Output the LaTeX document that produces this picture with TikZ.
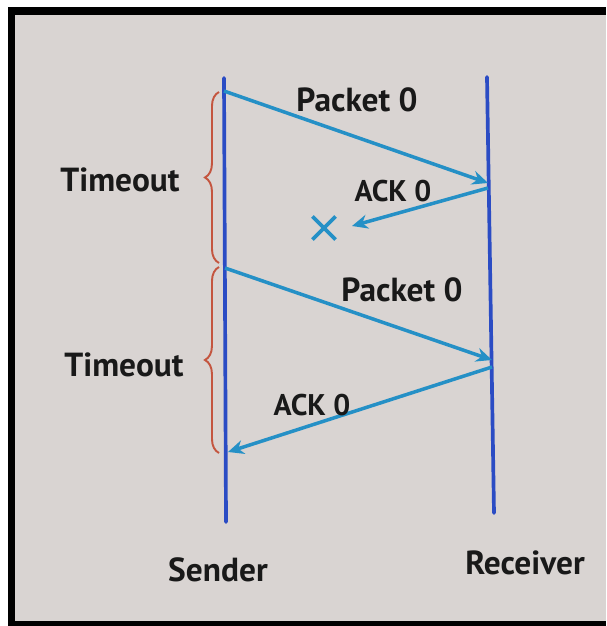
\documentclass[tikz,border=0pt]{standalone}
\usepackage{fontspec}
\setmainfont{PT Sans}
\usetikzlibrary{arrows.meta,decorations.pathreplacing,shapes.misc}
\definecolor{paper}{HTML}{D9D4D2}
\definecolor{lineblue}{HTML}{2B4CC4}
\definecolor{msgblue}{HTML}{2590C6}
\definecolor{bracered}{HTML}{C4553F}

\begin{document}
\begin{tikzpicture}[x=0.02cm, y=-0.02cm,
    timeline/.style={lineblue, line width=2.1pt, line cap=round},
    msg/.style={-{Stealth[length=9pt,width=8pt]}, msgblue, line width=2pt},
    timer/.style={decorate, decoration={brace, amplitude=8pt}, bracered, line width=1.1pt},
    txt/.style={font=\fontsize{19}{23}\selectfont\bfseries, text=black!90},
    acktxt/.style={font=\fontsize{17}{21}\selectfont\bfseries, text=black!90}
]

% Frame and paper
\fill[white] (0,0) rectangle (606,626);
\fill[black] (8,7) rectangle (606,626);
\fill[paper] (15,15) rectangle (606,621);

% Time lines
\coordinate (sendtop) at (224,78);
\coordinate (sendbot) at (226,522);
\coordinate (recvtop) at (487,77);
\coordinate (recvbot) at (494,513);
\draw[timeline] (sendtop) -- (sendbot);
\draw[timeline] (recvtop) -- (recvbot);

% Events on the lines
\coordinate (p1out) at (224,91);
\coordinate (p1in) at (488,183);
\coordinate (a1out) at (488,188);
\coordinate (a1end) at (352,226);
\coordinate (p2out) at (225,268);
\coordinate (p2in) at (492,360);
\coordinate (a2out) at (492,367);
\coordinate (a2in) at (228,452);

% Messages
\draw[msg] (p1out) -- (p1in);
\draw[msg] (a1out) -- (a1end);
\draw[msg] (p2out) -- (p2in);
\draw[msg] (a2out) -- (a2in);

% Lost ack
\node[cross out, draw=msgblue, line width=2.2pt, minimum size=11pt, inner sep=0pt] (lost) at (324,228) {};

% Message labels
\node[txt] (pkt1) at (357,100) {Packet 0};
\node[acktxt] (ack1) at (393,191) {ACK 0};
\node[txt] (pkt2) at (402,290) {Packet 0};
\node[acktxt] (ack2) at (312,405) {ACK 0};

% Timeout braces
\coordinate (t1top) at (219,92);
\coordinate (t1bot) at (219,263);
\coordinate (t2top) at (219,267);
\coordinate (t2bot) at (219,453);
\draw[timer] (t1bot) -- (t1top);
\draw[timer] (t2bot) -- (t2top);
\node[txt] (timeout1) at (120,180) {Timeout};
\node[txt] (timeout2) at (124,365) {Timeout};

% Hosts
\node[txt] (sender) at (218,570) {Sender};
\node[txt] (receiver) at (525,563) {Receiver};

\end{tikzpicture}
\end{document}
